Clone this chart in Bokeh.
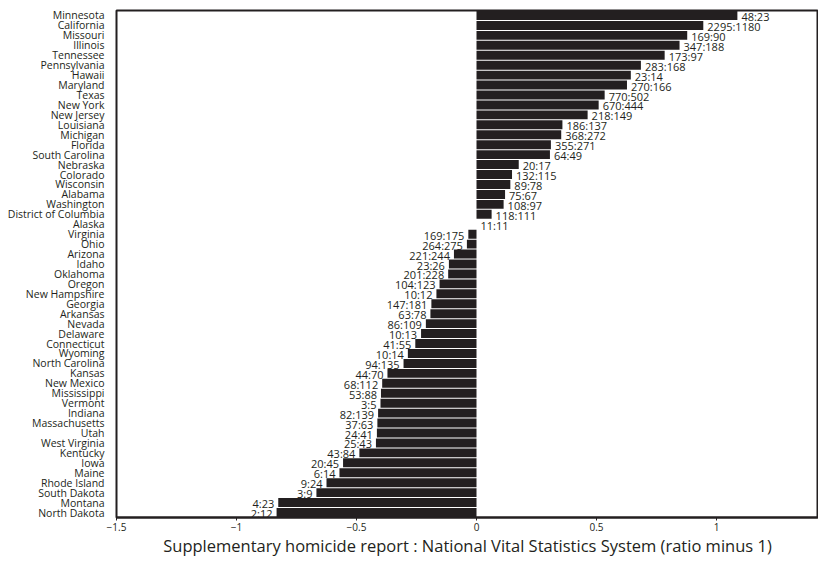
from bokeh.plotting import figure
from bokeh.models import ColumnDataSource, FactorRange, Range1d, FixedTicker, CustomJSTickFormatter
from bokeh.core.properties import value
from bokeh.embed import file_html
from bokeh.resources import INLINE

states = ["Minnesota", "California", "Missouri", "Illinois", "Tennessee", "Pennsylvania",
          "Hawaii", "Maryland", "Texas", "New York", "New Jersey", "Louisiana", "Michigan",
          "Florida", "South Carolina", "Nebraska", "Colorado", "Wisconsin", "Alabama",
          "Washington", "District of Columbia", "Alaska", "Virginia", "Ohio", "Arizona",
          "Idaho", "Oklahoma", "Oregon", "New Hampshire", "Georgia", "Arkansas", "Nevada",
          "Delaware", "Connecticut", "Wyoming", "North Carolina", "Kansas", "New Mexico",
          "Mississippi", "Vermont", "Indiana", "Massachusetts", "Utah", "West Virginia",
          "Kentucky", "Iowa", "Maine", "Rhode Island", "South Dakota", "Montana", "North Dakota"]

ratio_labels = ["48:23", "2295:1180", "169:90", "347:188", "173:97", "283:168",
                "23:14", "270:166", "770:502", "670:444", "218:149", "186:137", "368:272",
                "355:271", "64:49", "20:17", "132:115", "89:78", "75:67",
                "108:97", "118:111", "11:11", "169:175", "264:275", "221:244",
                "23:26", "201:228", "104:123", "10:12", "147:181", "63:78", "86:109",
                "10:13", "41:55", "10:14", "94:135", "44:70", "68:112",
                "53:88", "3:5", "82:139", "37:63", "24:41", "25:43",
                "43:84", "20:45", "6:14", "9:24", "3:9", "4:23", "2:12"]

values = [1.087, 0.945, 0.878, 0.846, 0.784, 0.685,
          0.643, 0.627, 0.534, 0.509, 0.463, 0.358, 0.353,
          0.310, 0.306, 0.176, 0.148, 0.141, 0.119,
          0.113, 0.063, 0.0, -0.034, -0.040, -0.094,
          -0.115, -0.118, -0.154, -0.167, -0.188, -0.192, -0.211,
          -0.231, -0.255, -0.286, -0.304, -0.371, -0.393,
          -0.398, -0.400, -0.410, -0.413, -0.415, -0.419,
          -0.488, -0.556, -0.571, -0.625, -0.667, -0.826, -0.833]

x_ticks = [-1.5, -1.0, -0.5, 0.0, 0.5, 1.0, 1.5]
x_title = "Supplementary homicide report : National Vital Statistics System (ratio minus 1)"

FONT = "Open Sans"
BAR = "#231F20"

align = ["left" if v >= 0 else "right" for v in values]
xoff = [4 if v >= 0 else -4 for v in values]

src = ColumnDataSource(dict(state=states, val=values, lab=ratio_labels, align=align, xoff=xoff))

p = figure(width=818, height=559, output_backend="svg", toolbar_location=None,
           y_range=FactorRange(factors=list(reversed(states))),
           x_range=Range1d(-1.5, 1.425),
           min_border_left=116, min_border_right=0, min_border_top=10, min_border_bottom=42)

p.hbar(y="state", left=0, right="val", height=0.9, source=src,
       fill_color=BAR, line_color=None)

p.text(x="val", y="state", text="lab", source=src, text_align="align", x_offset="xoff",
       y_offset=1, text_baseline="middle", text_font=value(FONT), text_font_size="11px",
       text_color=BAR)

p.xgrid.visible = False
p.ygrid.visible = False
p.outline_line_color = BAR
p.outline_line_width = 2
p.background_fill_color = "white"
p.border_fill_color = "white"

xa = p.xaxis[0]
xa.ticker = FixedTicker(ticks=x_ticks)
xa.formatter = CustomJSTickFormatter(code="return tick < 0 ? '\u2212' + Math.abs(tick) : String(tick);")
xa.axis_line_color = BAR
xa.axis_line_width = 2
xa.major_tick_in = 0
xa.major_tick_out = 3
xa.major_tick_line_color = BAR
xa.minor_tick_line_color = None
xa.major_label_text_font = FONT
xa.major_label_text_font_size = "10px"
xa.major_label_text_color = BAR
xa.major_label_standoff = 2
xa.axis_label = x_title
xa.axis_label_text_font = FONT
xa.axis_label_text_font_size = "16.5px"
xa.axis_label_text_font_style = "normal"
xa.axis_label_text_color = BAR
xa.axis_label_standoff = 0

ya = p.yaxis[0]
ya.axis_line_color = None
ya.major_tick_line_color = None
ya.minor_tick_line_color = None
ya.major_tick_in = 0
ya.major_tick_out = 0
ya.major_label_standoff = 12
ya.major_label_text_font = FONT
ya.major_label_text_font_size = "10.5px"
ya.major_label_text_color = BAR

open("out.html", "w").write(file_html(p, INLINE))
